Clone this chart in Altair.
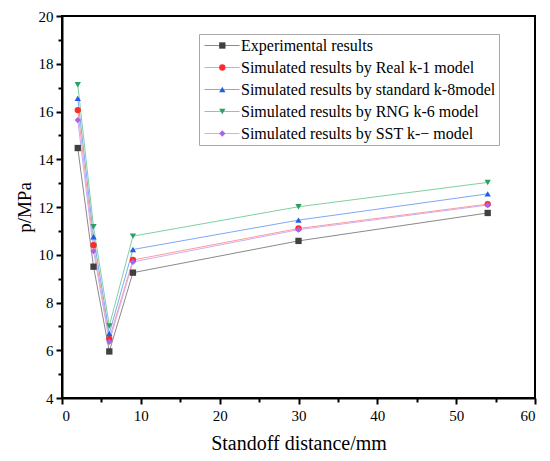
import altair as alt
import pandas as pd

distance = [2, 4, 6, 9, 30, 54]
series_names = [
    "Experimental results",
    "Simulated results by Real k-1 model",
    "Simulated results by standard k-8model",
    "Simulated results by RNG k-6 model",
    "Simulated results by SST k-\u2212 model",
]
series_keys = ["exp", "real", "std", "rng", "sst"]
experimental = [14.47, 9.50, 5.95, 9.25, 10.58, 11.75]
real_ke = [16.06, 10.40, 6.48, 9.78, 11.10, 12.12]
standard_ke = [16.55, 10.75, 6.70, 10.22, 11.45, 12.55]
rng_ke = [17.12, 11.17, 7.02, 10.78, 12.01, 13.03]
sst_kw = [15.64, 10.15, 6.35, 9.70, 11.05, 12.08]

marker_colors = ["#404040", "#ff2a2a", "#1f5fe0", "#2ca05f", "#a866e6"]
line_colors = ["#8a8a8a", "#ff9a9a", "#7fa8f5", "#7fd0a2", "#cfaef2"]
shapes = ["square", "circle", "triangle-up", "triangle-down", "diamond"]

x_major_ticks = [0, 10, 20, 30, 40, 50, 60]
x_minor_ticks = [5, 15, 25, 35, 45, 55]
y_major_ticks = [4, 6, 8, 10, 12, 14, 16, 18, 20]
y_minor_ticks = [5, 7, 9, 11, 13, 15, 17, 19]

rows = []
for name, key, vals in zip(series_names, series_keys,
                           [experimental, real_ke, standard_ke, rng_ke, sst_kw]):
    for d, v in zip(distance, vals):
        rows.append({"series": name, "key": key, "distance": d, "p": v})
df = pd.DataFrame(rows)

FONT = "Liberation Serif"
x_scale = alt.Scale(domain=[0, 60], nice=False, zero=False)
y_scale = alt.Scale(domain=[4, 20], nice=False, zero=False)

common_axis = dict(grid=False, tickColor="black", tickWidth=2, domainColor="black",
                   labelFont=FONT, labelFontSize=15, labelColor="black",
                   titleFont=FONT, titleColor="black", titleFontWeight="normal")

x_major = alt.Axis(values=x_major_ticks, orient="bottom", title="Standoff distance/mm",
                   tickSize=6, domainWidth=2, labelPadding=4, titleFontSize=20,
                   titlePadding=10, **common_axis)
x_minor = alt.Axis(values=x_minor_ticks, orient="bottom", title=None, labels=False,
                   domain=False, tickSize=4, **common_axis)
y_major = alt.Axis(values=y_major_ticks, orient="left", title="p/MPa",
                   tickSize=6, domainWidth=2, labelPadding=3, titleFontSize=19,
                   titlePadding=4, **common_axis)
y_minor = alt.Axis(values=y_minor_ticks, orient="left", title=None, labels=False,
                   domain=False, tickSize=4, **common_axis)

legend_common = dict(orient="none", legendX=137, legendY=18, title=None,
                     labelFont=FONT, labelFontSize=16, labelColor="black",
                     labelLimit=500, padding=3.5, rowPadding=6)

lines = alt.Chart(df).mark_line(strokeWidth=1).encode(
    x=alt.X("distance:Q", scale=x_scale, axis=x_minor),
    y=alt.Y("p:Q", scale=y_scale, axis=y_minor),
    stroke=alt.Stroke("series:N", scale=alt.Scale(domain=series_names, range=line_colors),
                      legend=alt.Legend(symbolType="M-5,0H5", symbolSize=49,
                                        symbolStrokeWidth=1.2, symbolOffset=11.5,
                                        labelOffset=11, strokeColor="#a8a8a8",
                                        **legend_common)),
)

marker_legend = alt.Legend(labelExpr="' '", symbolSize=40, symbolOffset=11.8,
                           labelOffset=11, strokeColor="transparent", **legend_common)
points = alt.Chart(df).mark_point(filled=True, size=40, opacity=1).encode(
    x=alt.X("distance:Q", scale=x_scale, axis=x_major),
    y=alt.Y("p:Q", scale=y_scale, axis=y_major),
    fill=alt.Fill("key:N", scale=alt.Scale(domain=series_keys, range=marker_colors),
                  legend=marker_legend),
    shape=alt.Shape("key:N", scale=alt.Scale(domain=series_keys, range=shapes),
                    legend=marker_legend),
)

chart = alt.layer(lines, points).resolve_axis(x="independent", y="independent").properties(
    width=473, height=382,
    autosize=alt.AutoSizeParams(type="none"),
    padding={"left": 54, "top": 8, "right": 7, "bottom": 55},
    background="white",
).configure_view(stroke="black", strokeWidth=2).configure_axis(
    labelFont=FONT, titleFont=FONT
).configure_legend(labelFont=FONT)

chart.save("out.html", embed_options={"renderer": "svg", "actions": False})
